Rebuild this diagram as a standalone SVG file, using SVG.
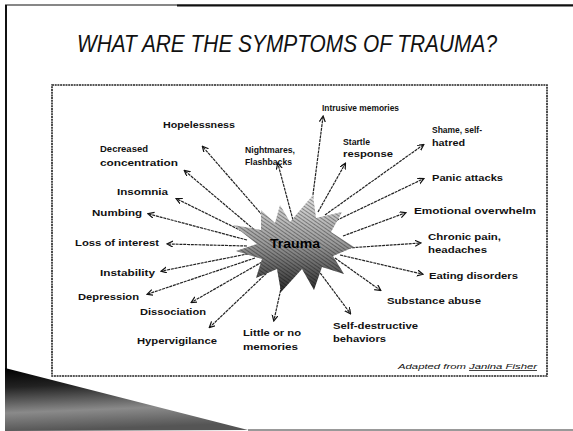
<svg xmlns="http://www.w3.org/2000/svg" width="573" height="431" viewBox="0 0 573 431">
<defs>
<style>
.lbl{font-family:"Liberation Sans",Arial,sans-serif;font-size:9.5px;font-weight:bold;fill:#111;}
.sm{font-size:8.3px;}
.con{stroke:#222;stroke-width:1.2;fill:none;stroke-dasharray:3 0.8;marker-end:url(#ah);}
</style>
<marker id="ah" markerWidth="7" markerHeight="7" refX="5" refY="3" orient="auto" markerUnits="userSpaceOnUse">
<path d="M0,0 L6,3 L0,6" fill="none" stroke="#111" stroke-width="1.2"/>
</marker>
<linearGradient id="starg" x1="0" y1="0" x2="0" y2="1">
<stop offset="0" stop-color="#e0e0e0"/>
<stop offset="0.5" stop-color="#9a9a9a"/>
<stop offset="1" stop-color="#2a2a2a"/>
</linearGradient>
<pattern id="hatch" width="3" height="3" patternUnits="userSpaceOnUse" patternTransform="rotate(35)">
<rect width="3" height="1" fill="#000" fill-opacity="0.35"/>
</pattern>
<linearGradient id="wedge" x1="0" y1="0" x2="0.15" y2="1">
<stop offset="0" stop-color="#000"/>
<stop offset="0.3" stop-color="#222"/>
<stop offset="0.7" stop-color="#8a8a8a"/>
<stop offset="1" stop-color="#555"/>
</linearGradient>
</defs>
<rect width="573" height="431" fill="#fff"/>
<line x1="5" y1="5" x2="573" y2="5" stroke="#111" stroke-width="1.2"/>
<line x1="177" y1="5.5" x2="573" y2="5.5" stroke="#111" stroke-width="2.2"/>
<line x1="6" y1="5" x2="6" y2="431" stroke="#111" stroke-width="2"/>
<polygon points="5,368 248,430 5,431" fill="url(#wedge)"/>
<line x1="248" y1="430" x2="573" y2="430" stroke="#777" stroke-width="1.5"/>
<text x="77" y="52" font-family="Liberation Sans, Arial, sans-serif" font-style="italic" font-size="24" fill="#111" textLength="420" lengthAdjust="spacingAndGlyphs">WHAT ARE THE SYMPTOMS OF TRAUMA?</text>
<rect x="52" y="85" width="495" height="291" fill="#fff" stroke="#222" stroke-width="1.6" stroke-dasharray="2 0.7"/>
<g id="connectors">
<line class="con" x1="311" y1="210" x2="323" y2="117"/>
<line class="con" x1="293" y1="220" x2="278" y2="164"/>
<line class="con" x1="270" y1="224" x2="203" y2="147"/>
<line class="con" x1="257" y1="232" x2="185" y2="171"/>
<line class="con" x1="252" y1="236" x2="177" y2="199"/>
<line class="con" x1="247" y1="240" x2="149" y2="214"/>
<line class="con" x1="247" y1="246" x2="168" y2="244"/>
<line class="con" x1="252" y1="253" x2="162" y2="271"/>
<line class="con" x1="255" y1="258" x2="148" y2="294"/>
<line class="con" x1="262" y1="262" x2="192" y2="302"/>
<line class="con" x1="272" y1="268" x2="210" y2="327"/>
<line class="con" x1="284" y1="275" x2="274" y2="320"/>
<line class="con" x1="318" y1="270" x2="350" y2="313"/>
<line class="con" x1="335" y1="258" x2="380" y2="290"/>
<line class="con" x1="340" y1="255" x2="422" y2="274"/>
<line class="con" x1="348" y1="248" x2="420" y2="243"/>
<line class="con" x1="343" y1="236" x2="405" y2="213"/>
<line class="con" x1="333" y1="222" x2="423" y2="179"/>
<line class="con" x1="325" y1="215" x2="423" y2="145"/>
<line class="con" x1="318" y1="212" x2="345" y2="164"/>
</g>
<g id="trauma">
<polygon points="280,205 290,222 313,195 316,218 342,212 331,232 354,247 333,256 344,274 322,267 314,290 302,269 281,292 277,269 256,278 262,259 236,251 257,244 233,225 261,230 261,210 275,223" fill="url(#starg)"/>
<polygon points="280,205 290,222 313,195 316,218 342,212 331,232 354,247 333,256 344,274 322,267 314,290 302,269 281,292 277,269 256,278 262,259 236,251 257,244 233,225 261,230 261,210 275,223" fill="url(#hatch)"/>
<text x="270" y="248" font-family="Liberation Sans, Arial, sans-serif" font-size="13" font-weight="bold" fill="#000" textLength="50" lengthAdjust="spacingAndGlyphs">Trauma</text>
</g>
<g id="intrusive"><text class="lbl sm" x="322" y="111" textLength="77" lengthAdjust="spacingAndGlyphs">Intrusive memories</text></g>
<g id="hopelessness"><text class="lbl sm" x="163" y="128" textLength="72" lengthAdjust="spacingAndGlyphs">Hopelessness</text></g>
<g id="nightmares"><text class="lbl sm" x="245" y="153" textLength="50" lengthAdjust="spacingAndGlyphs">Nightmares,</text><text class="lbl sm" x="245" y="165" textLength="47" lengthAdjust="spacingAndGlyphs">Flashbacks</text></g>
<g id="startle"><text class="lbl sm" x="343" y="145" textLength="27" lengthAdjust="spacingAndGlyphs">Startle</text><text class="lbl sm" x="343" y="157" textLength="50" lengthAdjust="spacingAndGlyphs">response</text></g>
<g id="shame"><text class="lbl sm" x="432" y="133" textLength="50" lengthAdjust="spacingAndGlyphs">Shame, self-</text><text class="lbl sm" x="432" y="146" textLength="33" lengthAdjust="spacingAndGlyphs">hatred</text></g>
<g id="decreased"><text class="lbl sm" x="100" y="152" textLength="48" lengthAdjust="spacingAndGlyphs">Decreased</text><text class="lbl" x="100" y="166" textLength="78" lengthAdjust="spacingAndGlyphs">concentration</text></g>
<g id="panic"><text class="lbl" x="432" y="181" textLength="71" lengthAdjust="spacingAndGlyphs">Panic attacks</text></g>
<g id="insomnia"><text class="lbl" x="117" y="195" textLength="51" lengthAdjust="spacingAndGlyphs">Insomnia</text></g>
<g id="numbing"><text class="lbl" x="92" y="216" textLength="50" lengthAdjust="spacingAndGlyphs">Numbing</text></g>
<g id="emotional"><text class="lbl" x="414" y="214" textLength="122" lengthAdjust="spacingAndGlyphs">Emotional overwhelm</text></g>
<g id="loss"><text class="lbl" x="75" y="246" textLength="84" lengthAdjust="spacingAndGlyphs">Loss of interest</text></g>
<g id="chronic"><text class="lbl" x="428" y="240" textLength="73" lengthAdjust="spacingAndGlyphs">Chronic pain,</text><text class="lbl" x="428" y="253" textLength="59" lengthAdjust="spacingAndGlyphs">headaches</text></g>
<g id="instability"><text class="lbl" x="100" y="276" textLength="55" lengthAdjust="spacingAndGlyphs">Instability</text></g>
<g id="eating"><text class="lbl" x="429" y="279" textLength="89" lengthAdjust="spacingAndGlyphs">Eating disorders</text></g>
<g id="depression"><text class="lbl" x="78" y="300" textLength="61" lengthAdjust="spacingAndGlyphs">Depression</text></g>
<g id="substance"><text class="lbl" x="387" y="304" textLength="94" lengthAdjust="spacingAndGlyphs">Substance abuse</text></g>
<g id="dissociation"><text class="lbl" x="140" y="315" textLength="66" lengthAdjust="spacingAndGlyphs">Dissociation</text></g>
<g id="selfdestructive"><text class="lbl" x="333" y="329" textLength="85" lengthAdjust="spacingAndGlyphs">Self-destructive</text><text class="lbl" x="333" y="342" textLength="53" lengthAdjust="spacingAndGlyphs">behaviors</text></g>
<g id="little"><text class="lbl" x="243" y="336" textLength="58" lengthAdjust="spacingAndGlyphs">Little or no</text><text class="lbl" x="243" y="350" textLength="55" lengthAdjust="spacingAndGlyphs">memories</text></g>
<g id="hypervigilance"><text class="lbl" x="137" y="344" textLength="80" lengthAdjust="spacingAndGlyphs">Hypervigilance</text></g>
<text x="398" y="369" font-family="Liberation Sans, Arial, sans-serif" font-size="8" font-style="italic" fill="#111" textLength="139" lengthAdjust="spacingAndGlyphs">Adapted from <tspan text-decoration="underline">Janina Fisher</tspan></text>
</svg>
